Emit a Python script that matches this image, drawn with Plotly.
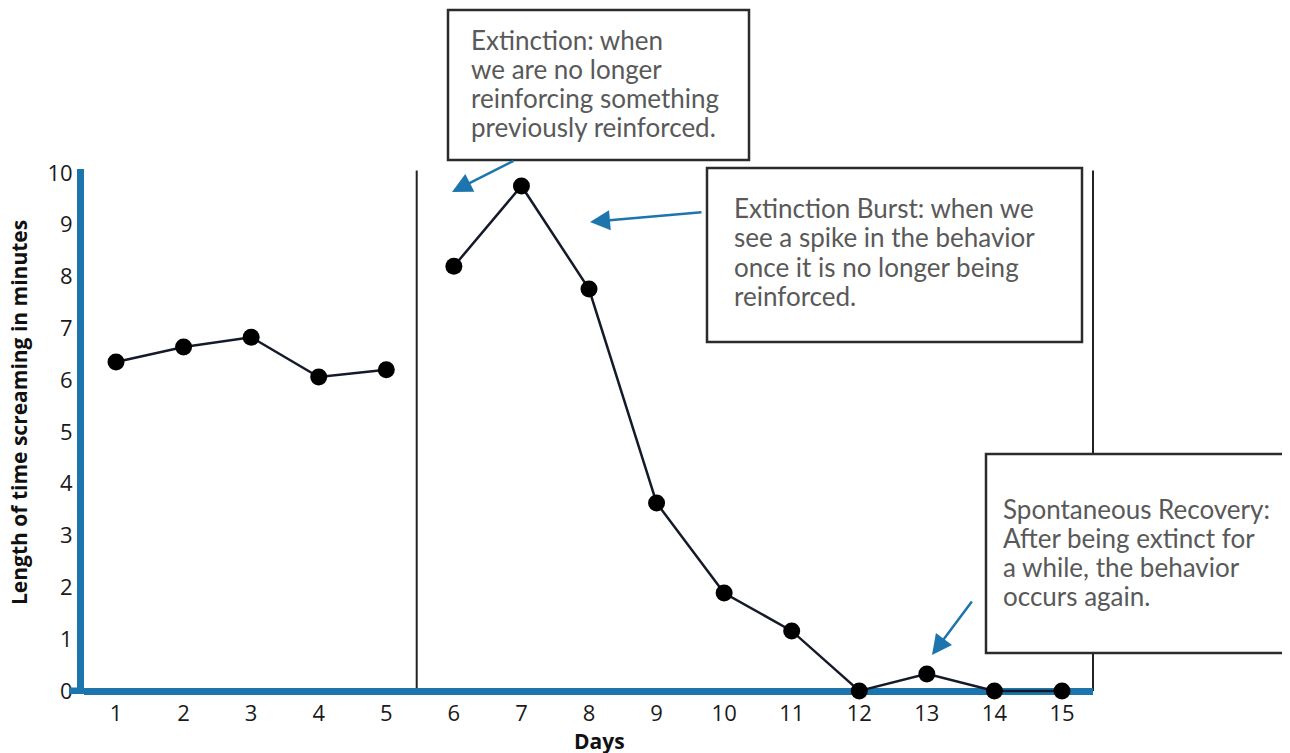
import plotly.graph_objects as go

# ---- data ----
baseline_days = [1, 2, 3, 4, 5]
baseline_minutes = [6.35, 6.64, 6.83, 6.06, 6.20]
extinction_days = [6, 7, 8, 9, 10, 11, 12, 13, 14, 15]
extinction_minutes = [8.20, 9.75, 7.76, 3.63, 1.89, 1.16, 0.0, 0.33, 0.0, 0.0]
x_ticks = list(range(1, 16))
y_ticks = list(range(0, 11))
phase_break = 5.45

box_lines = [
    ["Extinction: when", "we are no longer", "reinforcing something", "previously reinforced."],
    ["Extinction Burst: when we", "see a spike in the behavior", "once it is no longer being", "reinforced."],
    ["Spontaneous Recovery:", "After being extinct for", "a while, the behavior", "occurs again."],
]

OFF = 8  # page body margin
W, H = 1290 - OFF, 753 - OFF
# plot-area edges in screen pixels
L, R, T, B = 84, 1093, 169, 694
BLUE = "#1c76ad"
LINE = "#141a2a"
TEXT_GRAY = "#595959"


def px(x):
    return (x - L) / (R - L)


def py(y):
    return (B - y) / (B - T)


fig = go.Figure()
for xs, ys in [(baseline_days, baseline_minutes), (extinction_days, extinction_minutes)]:
    fig.add_trace(go.Scatter(
        x=xs, y=ys, mode="lines+markers",
        line=dict(color=LINE, width=2.5),
        marker=dict(color="black", size=17),
        cliponaxis=False, showlegend=False, hoverinfo="x+y",
    ))

shapes = []
shapes.append(dict(type="line", xref="x", yref="y", x0=phase_break, x1=phase_break,
                   y0=0, y1=10.05, line=dict(color="#222222", width=2), layer="below"))
shapes.append(dict(type="line", xref="paper", yref="y", x0=1, x1=1,
                   y0=0, y1=10.05, line=dict(color="#222222", width=2), layer="below"))
shapes.append(dict(type="line", xref="paper", yref="y", x0=px(69), x1=px(84),
                   y0=0, y1=0, line=dict(color=BLUE, width=7)))

boxes = [(448, 10, 749, 160), (707, 168, 1082, 342), (986, 454, 1300, 653)]
for (x0, y0, x1, y1) in boxes:
    shapes.append(dict(type="rect", xref="paper", yref="paper",
                       x0=px(x0), x1=px(x1), y0=py(y1), y1=py(y0),
                       line=dict(color="#2b2b2b", width=2.5), fillcolor="white"))

annotations = []
# (left x, first-line centre y, line spacing)
text_pos = [(469, 40, 29), (732, 208, 29.3), (1001, 509, 29)]
for (tx, ty, dy), lines in zip(text_pos, box_lines):
    for i, line in enumerate(lines):
        annotations.append(dict(
            xref="paper", yref="paper", x=px(tx), y=py(ty + i * dy),
            xanchor="left", yanchor="middle", align="left", showarrow=False,
            text=line, font=dict(family="Lato", size=26, color=TEXT_GRAY),
        ))

arrows = [(452, 192, 515, 160), (590, 222, 703, 212), (932, 655, 973, 600)]
for hx, hy, tx, ty in arrows:
    annotations.append(dict(
        xref="paper", yref="paper", x=px(hx), y=py(hy),
        ax=tx - hx, ay=ty - hy, text="", showarrow=True,
        arrowhead=2, arrowsize=1.6, arrowwidth=2.5, arrowcolor=BLUE,
    ))

annotations.append(dict(
    xref="paper", yref="paper", x=px(19), y=py(413), text="<b>Length of time screaming in minutes</b>",
    textangle=-90, showarrow=False, xanchor="center", yanchor="middle",
    font=dict(family="Open Sans", size=21, color="#111111"),
))
annotations.append(dict(
    xref="paper", yref="paper", x=px(599), y=py(741), text="<b>Days</b>",
    showarrow=False, xanchor="center", yanchor="middle",
    font=dict(family="Open Sans", size=21, color="#111111"),
))

fig.update_layout(
    width=W, height=H,
    margin=dict(l=L - OFF, r=(W + OFF) - R, t=T - OFF, b=(H + OFF) - B, pad=0),
    paper_bgcolor="white", plot_bgcolor="white",
    shapes=shapes, annotations=annotations,
    font=dict(family="Open Sans", color="#1a1a1a"),
    xaxis=dict(
        range=[0.526, 15.459], tickvals=x_ticks, ticktext=[str(v) for v in x_ticks],
        showgrid=False, zeroline=False, showline=False, ticks="",
        ticklabelstandoff=4,
        tickfont=dict(size=22, color="#1a1a1a"), fixedrange=True,
    ),
    yaxis=dict(
        range=[-0.058, 10.077], tickvals=y_ticks, ticktext=[str(v) for v in y_ticks],
        showgrid=False, zeroline=True, zerolinecolor=BLUE, zerolinewidth=7,
        showline=True, linecolor=BLUE, linewidth=7, ticks="",
        tickfont=dict(size=22, color="#1a1a1a"), fixedrange=True,
    ),
)

fig.write_html("out.html")
